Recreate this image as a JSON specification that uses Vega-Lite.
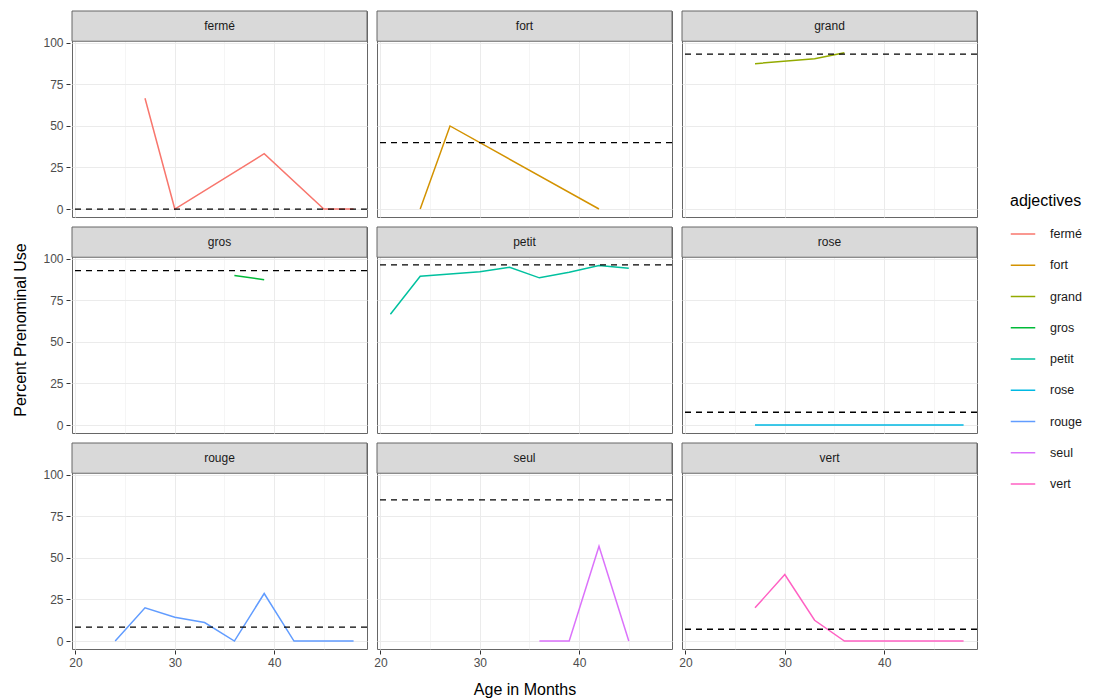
{
  "$schema": "https://vega.github.io/schema/vega-lite/v6.json",
  "padding": {"left": 12, "top": 10, "right": 5, "bottom": 5},
  "background": "white",
  "config": {
    "font": "Liberation Sans",
    "view": {"stroke": "#666666", "strokeWidth": 1},
    "axis": {
      "domain": false,
      "labelFont": "Liberation Sans",
      "labelFontSize": 12,
      "labelColor": "#4D4D4D",
      "labelPadding": 3,
      "tickColor": "#333333",
      "tickSize": 4,
      "gridColor": "#EBEBEB"
    },
    "header": {
      "titleFont": "Liberation Sans",
      "titleFontSize": 16,
      "titleFontWeight": "normal",
      "titleColor": "#000000"
    },
    "legend": {
      "titleFont": "Liberation Sans",
      "titleFontSize": 16,
      "titleFontWeight": "normal",
      "titleColor": "#000000",
      "labelFont": "Liberation Sans",
      "labelFontSize": 12.5,
      "labelColor": "#1A1A1A"
    }
  },
  "data": {
    "values": [
      {"adjective": "fermé", "age": 27, "pct": 66.7},
      {"adjective": "fermé", "age": 30, "pct": 0},
      {"adjective": "fermé", "age": 39, "pct": 33.3},
      {"adjective": "fermé", "age": 45, "pct": 0},
      {"adjective": "fermé", "age": 48, "pct": 0},
      {"adjective": "fort", "age": 24, "pct": 0},
      {"adjective": "fort", "age": 27, "pct": 50},
      {"adjective": "fort", "age": 42, "pct": 0},
      {"adjective": "grand", "age": 27, "pct": 87.5},
      {"adjective": "grand", "age": 33, "pct": 90.5},
      {"adjective": "grand", "age": 36, "pct": 94.1},
      {"adjective": "gros", "age": 36, "pct": 90},
      {"adjective": "gros", "age": 39, "pct": 87.5},
      {"adjective": "petit", "age": 21, "pct": 66.7},
      {"adjective": "petit", "age": 24, "pct": 89.6},
      {"adjective": "petit", "age": 30, "pct": 92.3},
      {"adjective": "petit", "age": 33, "pct": 95},
      {"adjective": "petit", "age": 36, "pct": 88.6},
      {"adjective": "petit", "age": 39, "pct": 92},
      {"adjective": "petit", "age": 42, "pct": 96},
      {"adjective": "petit", "age": 45, "pct": 94.4},
      {"adjective": "rose", "age": 27, "pct": 0},
      {"adjective": "rose", "age": 48, "pct": 0},
      {"adjective": "rouge", "age": 24, "pct": 0},
      {"adjective": "rouge", "age": 27, "pct": 20},
      {"adjective": "rouge", "age": 30, "pct": 14.3},
      {"adjective": "rouge", "age": 33, "pct": 11.1},
      {"adjective": "rouge", "age": 36, "pct": 0},
      {"adjective": "rouge", "age": 39, "pct": 28.6},
      {"adjective": "rouge", "age": 42, "pct": 0},
      {"adjective": "rouge", "age": 45, "pct": 0},
      {"adjective": "rouge", "age": 48, "pct": 0},
      {"adjective": "seul", "age": 36, "pct": 0},
      {"adjective": "seul", "age": 39, "pct": 0},
      {"adjective": "seul", "age": 42, "pct": 57.1},
      {"adjective": "seul", "age": 45, "pct": 0},
      {"adjective": "vert", "age": 27, "pct": 20},
      {"adjective": "vert", "age": 30, "pct": 40},
      {"adjective": "vert", "age": 33, "pct": 12.5},
      {"adjective": "vert", "age": 36, "pct": 0},
      {"adjective": "vert", "age": 39, "pct": 0},
      {"adjective": "vert", "age": 42, "pct": 0},
      {"adjective": "vert", "age": 45, "pct": 0},
      {"adjective": "vert", "age": 48, "pct": 0},
      {"adjective": "fermé", "ref": 0},
      {"adjective": "fort", "ref": 40},
      {"adjective": "grand", "ref": 93.3},
      {"adjective": "gros", "ref": 92.9},
      {"adjective": "petit", "ref": 96.4},
      {"adjective": "rose", "ref": 7.7},
      {"adjective": "rouge", "ref": 8.4},
      {"adjective": "seul", "ref": 85},
      {"adjective": "vert", "ref": 7.1}
    ]
  },
  "transform": [
    {"calculate": "indexof(['fermé','fort','grand','gros','petit','rose','rouge','seul','vert'], datum.adjective)", "as": "idx"},
    {"calculate": "floor(datum.idx / 3)", "as": "prow"},
    {"calculate": "datum.idx % 3", "as": "pcol"}
  ],
  "facet": {
    "row": {"field": "prow", "type": "ordinal", "header": {"title": "Percent Prenominal Use", "labels": false, "titleOrient": "left", "titlePadding": 3}},
    "column": {"field": "pcol", "type": "ordinal", "header": {"title": "Age in Months", "labels": false, "titleOrient": "bottom", "titlePadding": 4}}
  },
  "spacing": {"row": 8, "column": 6},
  "resolve": {"scale": {"x": "shared", "y": "shared"}},
  "spec": {
    "width": 295,
    "height": 206,
    "layer": [
      {
        "transform": [{"filter": "datum.age != null"}],
        "mark": {"type": "line", "strokeWidth": 1.5},
        "encoding": {
          "x": {
            "field": "age", "type": "quantitative", "title": null,
            "scale": {"domain": [19.65, 49.35], "nice": false, "zero": false},
            "axis": {
              "values": [20, 25, 30, 35, 40, 45],
              "labelExpr": "datum.value % 10 === 0 ? datum.label : ''",
              "gridWidth": {"condition": {"test": "datum.value % 10 !== 0", "value": 0.5}, "value": 1},
              "tickOpacity": {"condition": {"test": "datum.value % 10 !== 0", "value": 0}, "value": 1}
            }
          },
          "y": {
            "field": "pct", "type": "quantitative", "title": null,
            "scale": {"domain": [-4.8, 119.2], "nice": false, "zero": false},
            "axis": {
              "values": [0, 12.5, 25, 37.5, 50, 62.5, 75, 87.5, 100],
              "labelExpr": "datum.value % 25 === 0 ? format(datum.value, 'd') : ''",
              "gridWidth": {"condition": {"test": "datum.value % 25 !== 0", "value": 0.5}, "value": 1},
              "tickOpacity": {"condition": {"test": "datum.value % 25 !== 0", "value": 0}, "value": 1}
            }
          },
          "color": {
            "field": "adjective", "type": "nominal", "title": "adjectives",
            "scale": {
              "domain": ["fermé", "fort", "grand", "gros", "petit", "rose", "rouge", "seul", "vert"],
              "range": ["#F8766D", "#D39200", "#93AA00", "#00BA38", "#00C19F", "#00B9E3", "#619CFF", "#DB72FB", "#FF61C3"]
            },
            "legend": {
              "orient": "none", "legendX": 938, "legendY": 182,
              "symbolType": "stroke", "symbolStrokeWidth": 1.5, "symbolSize": 600,
              "rowPadding": 11.25, "labelOffset": 14, "titlePadding": 12
            }
          }
        }
      },
      {
        "transform": [{"filter": "datum.ref != null"}],
        "mark": {"type": "rule", "strokeDash": [6, 5], "color": "#000000", "strokeWidth": 1.3},
        "encoding": {"y": {"field": "ref", "type": "quantitative", "title": null}}
      },
      {
        "transform": [{"filter": "datum.ref != null"}],
        "mark": {"type": "rect", "fill": "#D9D9D9", "stroke": "#666666", "strokeWidth": 1},
        "encoding": {"x": {"datum": 19.65}, "x2": {"datum": 49.35}, "y": {"datum": 101}, "y2": {"datum": 119.2}}
      },
      {
        "transform": [{"filter": "datum.ref != null"}],
        "mark": {"type": "text", "fontSize": 12, "color": "#1A1A1A", "baseline": "middle", "align": "center"},
        "encoding": {"x": {"datum": 34.5}, "y": {"datum": 110}, "text": {"field": "adjective", "type": "nominal"}}
      }
    ]
  }
}
